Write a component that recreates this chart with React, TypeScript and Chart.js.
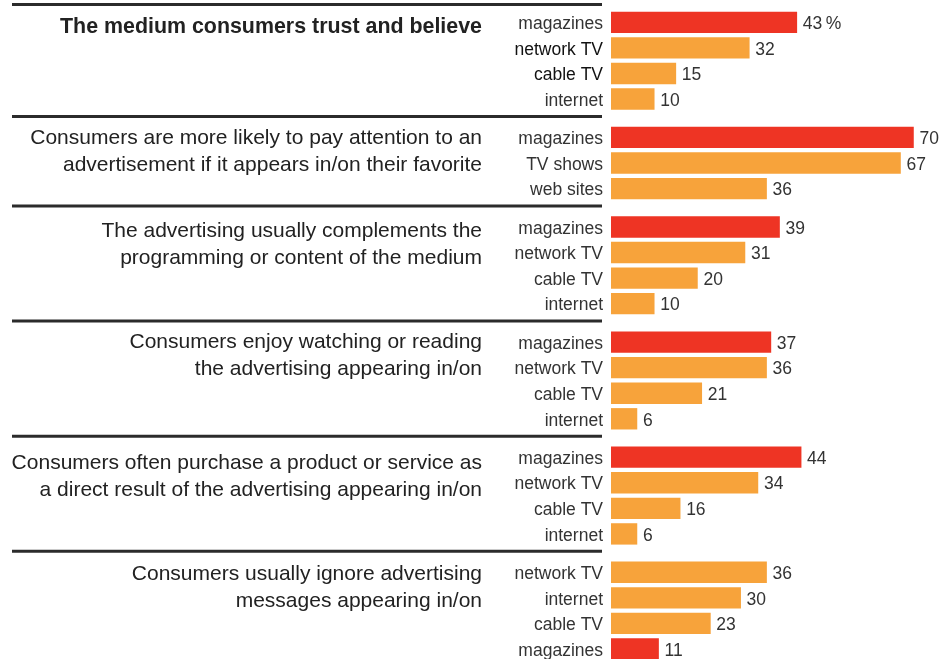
import React, { useEffect, useRef } from "react";
import { Chart, registerables } from "chart.js";

Chart.register(...registerables);

// ---- data ----
const trustTitle = ["The medium consumers trust and believe"];
const trustLabels = ["magazines", "network TV", "cable TV", "internet"];
const trustValues = [43, 32, 15, 10];

const attentionTitle = [
  "Consumers are more likely to pay attention to an",
  "advertisement if it appears in/on their favorite",
];
const attentionLabels = ["magazines", "TV shows", "web sites"];
const attentionValues = [70, 67, 36];

const complementTitle = [
  "The advertising usually complements the",
  "programming or content of the medium",
];
const complementLabels = ["magazines", "network TV", "cable TV", "internet"];
const complementValues = [39, 31, 20, 10];

const enjoyTitle = ["Consumers enjoy watching or reading", "the advertising appearing in/on"];
const enjoyLabels = ["magazines", "network TV", "cable TV", "internet"];
const enjoyValues = [37, 36, 21, 6];

const purchaseTitle = [
  "Consumers often purchase a product or service as",
  "a direct result of the advertising appearing in/on",
];
const purchaseLabels = ["magazines", "network TV", "cable TV", "internet"];
const purchaseValues = [44, 34, 16, 6];

const ignoreTitle = ["Consumers usually ignore advertising", "messages appearing in/on"];
const ignoreLabels = ["network TV", "internet", "cable TV", "magazines"];
const ignoreValues = [36, 30, 23, 11];

const groupTitles = [trustTitle, attentionTitle, complementTitle, enjoyTitle, purchaseTitle, ignoreTitle];
const groupLabels = [trustLabels, attentionLabels, complementLabels, enjoyLabels, purchaseLabels, ignoreLabels];
const groupValues = [trustValues, attentionValues, complementValues, enjoyValues, purchaseValues, ignoreValues];

// ---- styling / layout ----
const RED = "#EE3424";
const ORANGE = "#F7A33B";
const TEXT = "#333333";
const FONT = '"Liberation Sans", Arial, Helvetica, sans-serif';
const titleBaselineOffsets = [29, 28, 31, 27, 33, 29];
const TITLE_LINE_HEIGHT = 27;
const GROUP_GAP = 0.5;

type Row = { pos: number; value: number; label: string; group: number; idx: number };

function buildRows(): { rows: Row[]; starts: number[] } {
  const rows: Row[] = [];
  const starts: number[] = [];
  let slot = 0;
  groupValues.forEach((vals, g) => {
    const start = slot + g * GROUP_GAP;
    starts.push(start);
    vals.forEach((v, i) => {
      rows.push({ pos: start + i, value: v, label: groupLabels[g][i], group: g, idx: i });
    });
    slot += vals.length;
  });
  return { rows, starts };
}

export default function App() {
  const canvasRef = useRef<HTMLCanvasElement | null>(null);

  useEffect(() => {
    const canvas = canvasRef.current;
    if (!canvas) return;
    const { rows, starts } = buildRows();

    const overlay = {
      id: "overlay",
      afterDatasetsDraw(chart: any) {
        const ctx = chart.ctx as CanvasRenderingContext2D;
        const xs = chart.scales.x;
        const ys = chart.scales.y;
        ctx.save();
        starts.forEach((s, g) => {
          const y = ys.getPixelForValue(s - (g === 0 ? 0.7 : 0.82));
          ctx.strokeStyle = "#2b2b2b";
          ctx.lineWidth = 3;
          ctx.beginPath();
          ctx.moveTo(12, y);
          ctx.lineTo(602, y);
          ctx.stroke();
          groupTitles[g].forEach((t, li) => {
            ctx.font = g === 0 ? "bold 21.4px " + FONT : "21px " + FONT;
            ctx.fillStyle = "#222222";
            ctx.textAlign = "right";
            ctx.textBaseline = "alphabetic";
            ctx.fillText(t, 482, y + titleBaselineOffsets[g] + li * TITLE_LINE_HEIGHT);
          });
        });
        rows.forEach((r) => {
          const yc = ys.getPixelForValue(r.pos);
          ctx.font = "17.5px " + FONT;
          ctx.textBaseline = "alphabetic";
          ctx.textAlign = "right";
          ctx.fillStyle = r.group === 0 && (r.idx === 1 || r.idx === 2) ? "#111111" : TEXT;
          ctx.fillText(r.label, 603, yc + 6.7);
          const xe = xs.getPixelForValue(r.value);
          ctx.textAlign = "left";
          ctx.fillStyle = TEXT;
          const txt = r.group === 0 && r.idx === 0 ? r.value + "\u2009%" : String(r.value);
          ctx.fillText(txt, xe + 6, yc + 6.7);
        });
        ctx.restore();
      },
    };

    const chart = new Chart(canvas, {
      type: "bar",
      data: {
        datasets: [
          {
            data: rows.map((r) => ({ x: r.value, y: r.pos })),
            backgroundColor: rows.map((r) => (r.label === "magazines" ? RED : ORANGE)),
            borderWidth: 0,
            barThickness: 20.7,
          } as any,
        ],
      },
      options: {
        indexAxis: "y",
        animation: false,
        responsive: false,
        devicePixelRatio: 1,
        layout: { padding: { left: 611, right: 2, top: 0, bottom: 0 } },
        plugins: { legend: { display: false }, tooltip: { enabled: false }, title: { display: false } },
        scales: {
          x: { type: "linear", min: 0, max: 78, display: false, offset: false },
          y: { type: "linear", reverse: true, min: -0.872, max: 24.89, display: false, offset: false, grace: 0 },
        },
      } as any,
      plugins: [overlay],
    });
    return () => chart.destroy();
  }, []);

  return (
    <div style={{ position: "absolute", left: 0, top: 0, width: 950, height: 659, background: "#fff" }}>
      <canvas ref={canvasRef} width={950} height={659} style={{ display: "block" }} />
    </div>
  );
}
